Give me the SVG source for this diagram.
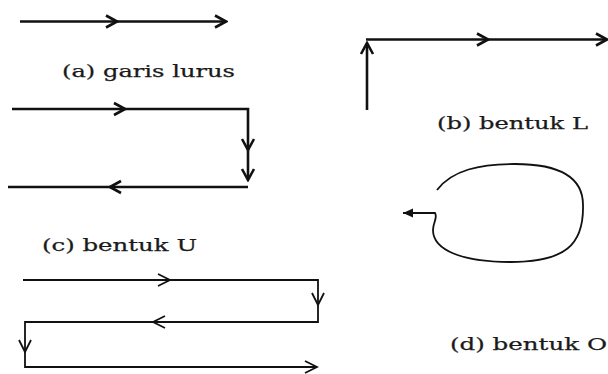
<svg xmlns="http://www.w3.org/2000/svg" width="608" height="374" viewBox="0 0 608 374">
<style>
.thick{stroke:#111;stroke-width:2.6;fill:none}
.thin{stroke:#111;stroke-width:1.8;fill:none}
.lbl{font-family:"DejaVu Serif","Liberation Serif",serif;font-size:17px;fill:#1a1a1a;stroke:#1a1a1a;stroke-width:0.25}
</style>
<defs>
<marker id="chev" viewBox="-13 -8 15 16" refX="0" refY="0" markerWidth="15" markerHeight="16" markerUnits="userSpaceOnUse" orient="auto">
<path d="M-11,-6 L0,0 L-11,6" fill="none" stroke="#111" stroke-width="2.6"/>
</marker>
<marker id="chevs" viewBox="-13 -8 15 16" refX="0" refY="0" markerWidth="15" markerHeight="16" markerUnits="userSpaceOnUse" orient="auto">
<path d="M-12,-6 L0,0 L-12,6" fill="none" stroke="#111" stroke-width="1.8"/>
</marker>
<marker id="tri" viewBox="-12 -7 14 14" refX="0" refY="0" markerWidth="14" markerHeight="14" markerUnits="userSpaceOnUse" orient="auto">
<path d="M-10,-4.5 L0,0 L-10,4.5 Z" fill="#111"/>
</marker>
</defs>
<rect width="608" height="374" fill="#fff"/>
<g id="connectors">
<path class="thick" d="M20,21.5 L117,21.5" marker-end="url(#chev)"/>
<path class="thick" d="M117,21.5 L226,21.5" marker-end="url(#chev)"/>
<path class="thick" d="M367,110 L367,43" marker-end="url(#chev)"/>
<path class="thick" d="M366,39.5 L488,39.5" marker-end="url(#chev)"/>
<path class="thick" d="M488,39.5 L607,39.5" marker-end="url(#chev)"/>
<path class="thick" d="M12,109 L125,109" marker-end="url(#chev)"/>
<path class="thick" d="M125,109 L248,109 L248,150" marker-end="url(#chev)"/>
<path class="thick" d="M248,150 L248,180" marker-end="url(#chev)"/>
<path class="thick" d="M248,187 L110,187" marker-end="url(#chev)"/>
<path class="thick" d="M110,187 L8,187"/>
<path class="thin" d="M437,190 C452,170 480,164 515,164 C560,164 583,178 583,205 C584,245 565,262 510,262 C462,262 433,250 433,230 C433,222 438,218 435,213 L403,213" marker-end="url(#tri)"/>
<path class="thin" d="M23,280 L170,280" marker-end="url(#chevs)"/>
<path class="thin" d="M170,280 L318,280 L318,305" marker-end="url(#chevs)"/>
<path class="thin" d="M318,305 L318,322 L153,322" marker-end="url(#chevs)"/>
<path class="thin" d="M153,322 L25,322 L25,352" marker-end="url(#chevs)"/>
<path class="thin" d="M25,352 L25,367 L317,367" marker-end="url(#chevs)"/>
</g>
<g id="label-a"><text class="lbl" x="62" y="77" textLength="173" lengthAdjust="spacingAndGlyphs">(a) garis lurus</text></g>
<g id="label-b"><text class="lbl" x="437" y="129" textLength="151" lengthAdjust="spacingAndGlyphs">(b) bentuk L</text></g>
<g id="label-c"><text class="lbl" x="42" y="251" textLength="155" lengthAdjust="spacingAndGlyphs">(c) bentuk U</text></g>
<g id="label-d"><text class="lbl" x="450" y="350" textLength="157" lengthAdjust="spacingAndGlyphs">(d) bentuk O</text></g>
</svg>
